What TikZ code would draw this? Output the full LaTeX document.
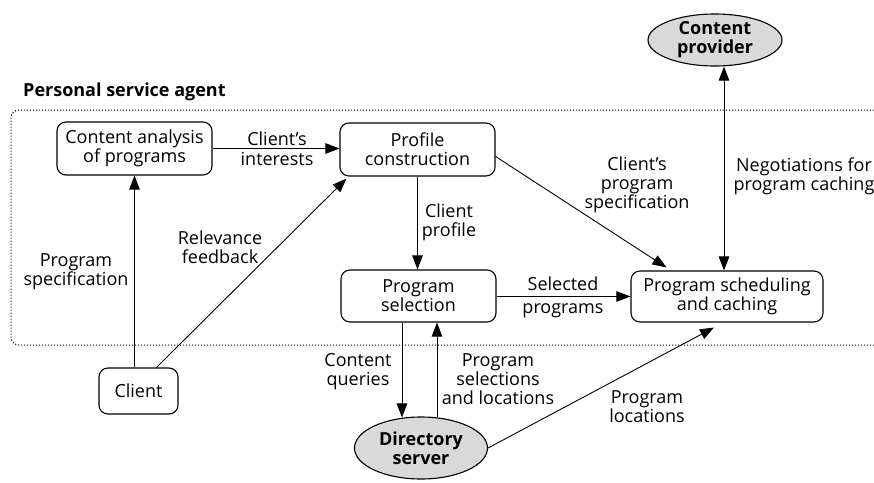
\documentclass[tikz,border=0pt]{standalone}
\usepackage{fontspec}
\setmainfont{Open Sans}
\usetikzlibrary{arrows.meta,shapes.geometric,calc}
\begin{document}
\begin{tikzpicture}[x=1pt,y=-1pt,
  every node/.style={font=\fontsize{18}{18.8}\selectfont},
  box/.style={draw,rounded corners=9pt,line width=1.1pt,align=center,inner sep=0pt},
  ell/.style={ellipse,draw,line width=1.1pt,fill=gray!30,align=center,inner sep=0pt,
              font=\fontsize{18}{18.8}\selectfont\bfseries},
  lbl/.style={align=center,inner sep=0pt},
  arr/.style={-{Triangle[length=14pt,width=10.5pt]},line width=0.9pt},
  arrtwo/.style={{Triangle[length=14pt,width=10.5pt]}-{Triangle[length=14pt,width=10.5pt]},line width=0.9pt},
  region/.style={line width=1pt,dash pattern=on 1.2pt off 1.8pt,rounded corners=8pt}]
\useasboundingbox (0,0) rectangle (874,482);

% region boundary
\coordinate (rtop) at (874,110);
\coordinate (rtl) at (11,110);
\coordinate (rbl) at (11,345);
\coordinate (rbot) at (874,345);
\draw[region] (rtop) -- (rtl) -- (rbl) -- (rbot);
\node[lbl,font=\fontsize{18}{18.8}\selectfont\bfseries,anchor=west] (psa) at (23,92) {Personal service agent};

% nodes
\node[box,minimum width=155pt,minimum height=53pt] (ca) at (134.5,148.5) {Content analysis\\of programs};
\node[box,minimum width=155pt,minimum height=53pt] (pc) at (417.5,149.5) {Profile\\construction};
\node[box,minimum width=155pt,minimum height=52pt] (ps) at (418.5,296) {Program\\selection};
\node[box,minimum width=192pt,minimum height=51pt] (sc) at (727,296.5) {Program scheduling\\and caching};
\node[box,minimum width=79pt,minimum height=46pt] (cl) at (138.5,391) {Client};
\node[ell,minimum width=134pt,minimum height=52pt] (cp) at (715,40) {Content\\provider};
\node[ell,minimum width=133pt,minimum height=62pt] (ds) at (421,448) {Directory\\server};

% helper coordinates
\coordinate (xq) at (402,0);
\coordinate (xs) at (437,0);
\coordinate (xn) at (724,0);

% connectors
\draw[arr] (ca.east) -- (ca.east -| pc.west);
\draw[arr] (cl.north -| ca.south) -- (ca.south);
\draw[arr] ($(cl.north)+(18,0)$) -- ($(pc.south west)+(7,2)$);
\draw[arr] (pc.south) -- (pc.south |- ps.north);
\draw[arr] ($(pc.east)+(0,7)$) -- ($(sc.north west)+(36,-3)$);
\draw[arrtwo] (xn |- cp.south) -- (xn |- sc.north);
\draw[arr] (ps.east |- sc.west) -- (sc.west);
\draw[arr] (xq |- ps.south) -- ($(xq |- ds.north)+(0,1)$);
\draw[arr] ($(xs |- ds.north)+(0,1)$) -- (xs |- ps.south);
\draw[arr] (ds.east) -- ($(sc.south)+(-13,5)$);

% labels
\node[lbl] (l1a) at (277,139) {Client’s};
\node[lbl] (l1b) at (277,159) {interests};
\node[lbl] (l2) at (76,272) {Program\\specification};
\node[lbl] (l3) at (220,247) {Relevance\\feedback};
\node[lbl] (l4) at (449,222) {Client\\profile};
\node[lbl] (l5) at (637,185) {Client’s\\program\\specification};
\node[lbl] (l6) at (804,176) {Negotiations for\\program caching};
\node[lbl] (l7a) at (563,284) {Selected};
\node[lbl] (l7b) at (563,311) {programs};
\node[lbl] (l8) at (358,372) {Content\\queries};
\node[lbl] (l9) at (498,379) {Program\\selections\\and locations};
\node[lbl] (l10) at (647,407) {Program\\locations};
\end{tikzpicture}
\end{document}
